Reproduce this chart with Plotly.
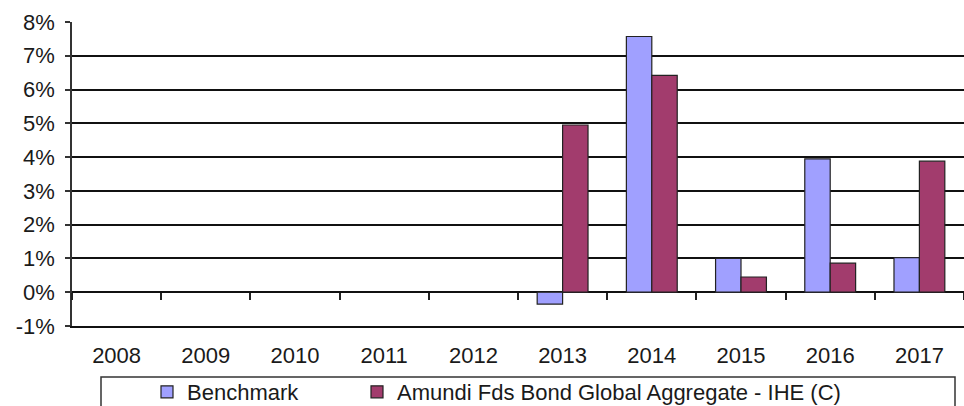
import plotly.graph_objects as go

years = ["2008", "2009", "2010", "2011", "2012", "2013", "2014", "2015", "2016", "2017"]
benchmark = [None, None, None, None, None, -0.35, 7.57, 1.00, 3.95, 1.02]
fund = [None, None, None, None, None, 4.95, 6.42, 0.45, 0.86, 3.88]
series_names = ["Benchmark", "Amundi Fds Bond Global Aggregate - IHE (C)"]
y_tickvals = [-1, 0, 1, 2, 3, 4, 5, 6, 7, 8]
y_ticktext = ["-1%", "0%", "1%", "2%", "3%", "4%", "5%", "6%", "7%", "8%"]

FONT = "Liberation Sans, Arial, sans-serif"
FS = 22
W, H = 964, 406
L, R, T, B = 72, 0, 22, 80
PW = W - L - R
PH = H - T - B

fig = go.Figure()
fig.add_trace(go.Bar(x=years, y=benchmark, name=series_names[0], legend="legend",
                     marker=dict(color="#A0A0FF", line=dict(color="#222222", width=1.2))))
fig.add_trace(go.Bar(x=years, y=fund, name=series_names[1], legend="legend2",
                     marker=dict(color="#A23C6D", line=dict(color="#222222", width=1.2))))
# invisible trace to carry the tick axis at the 0% line
fig.add_trace(go.Scatter(x=years, y=[None] * len(years), xaxis="x2", yaxis="y",
                         showlegend=False, hoverinfo="skip", mode="markers"))

zero_pos = (0 - (-1)) / (8 - (-1))

legend_common = dict(orientation="h", xref="container", yref="container",
                     yanchor="top", y=1 - 371 / H, xanchor="left",
                     font=dict(family=FONT, size=FS, color="#1a1a1a"),
                     bgcolor="rgba(0,0,0,0)", borderwidth=0)

fig.update_layout(
    width=W, height=H,
    margin=dict(l=L, r=R, t=T, b=B, autoexpand=False),
    paper_bgcolor="white", plot_bgcolor="white",
    font=dict(family=FONT, size=FS, color="#1a1a1a"),
    barmode="group", bargap=0.43, bargroupgap=0,
    showlegend=True,
    legend=dict(legend_common, x=(165 - 18) / W),
    legend2=dict(legend_common, x=(375 - 18) / W),
    xaxis=dict(type="category", categoryorder="array", categoryarray=years,
               range=[-0.5, len(years) - 0.5],
               showgrid=False, showline=True, linecolor="#111111", linewidth=2,
               ticks="", ticklabelstandoff=9, tickfont=dict(size=FS), automargin=False),
    xaxis2=dict(type="category", categoryorder="array", categoryarray=years,
                range=[-0.5, len(years) - 0.5], overlaying="x",
                anchor="free", position=zero_pos, side="bottom",
                showgrid=False, showline=False, showticklabels=False,
                ticks="outside", tickson="boundaries", ticklen=7,
                tickwidth=1.5, tickcolor="#222222", automargin=False),
    yaxis=dict(range=[-1, 8], tickvals=y_tickvals, ticktext=y_ticktext,
               showgrid=True, gridcolor="#111111", gridwidth=2,
               zeroline=True, zerolinecolor="#111111", zerolinewidth=2.4,
               showline=True, linecolor="#333333", linewidth=1.5,
               ticks="outside", ticklen=5, tickcolor="#333333", tickwidth=1.5,
               ticklabelstandoff=6, tickfont=dict(size=FS), automargin=False),
    shapes=[dict(type="rect", xref="paper", yref="paper",
                 x0=(101 - L) / PW, x1=(955 - L) / PW,
                 y0=-(420 - (T + PH)) / PH, y1=-(377 - (T + PH)) / PH,
                 line=dict(color="#333333", width=1.5), fillcolor="rgba(0,0,0,0)",
                 layer="below")],
)

fig.write_html("out.html", config={"displayModeBar": False},
               post_script="document.body.style.margin='0px';document.body.style.overflow='hidden';")
